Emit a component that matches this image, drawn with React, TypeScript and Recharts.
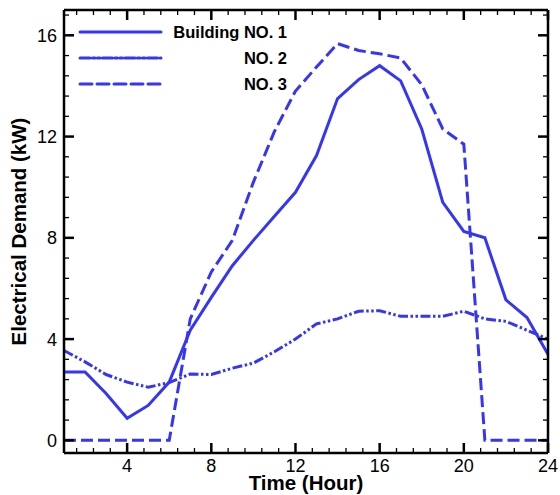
import React from 'react';
import { LineChart, Line, XAxis, YAxis } from 'recharts';

const hours = [1, 2, 3, 4, 5, 6, 7, 8, 9, 10, 11, 12, 13, 14, 15, 16, 17, 18, 19, 20, 21, 22, 23, 24];
const building1 = [2.7, 2.7, 1.85, 0.87, 1.38, 2.3, 4.35, 5.65, 6.9, 7.9, 8.85, 9.8, 11.25, 13.5, 14.25, 14.8, 14.2, 12.3, 9.4, 8.25, 8.0, 5.55, 4.85, 3.4];
const building2 = [3.55, 3.1, 2.6, 2.3, 2.1, 2.28, 2.62, 2.6, 2.85, 3.05, 3.5, 4.0, 4.6, 4.8, 5.1, 5.12, 4.9, 4.9, 4.9, 5.1, 4.8, 4.7, 4.35, 4.0];
const building3 = [0, 0, 0, 0, 0, 0, 4.8, 6.65, 7.9, 10.2, 12.2, 13.8, 14.75, 15.67, 15.4, 15.27, 15.1, 14.05, 12.3, 11.7, 0, 0, 0, 0];

const seriesNames = ['Building NO. 1', 'NO. 2', 'NO. 3'];
const xMajorTicks = [4, 8, 12, 16, 20, 24];
const yMajorTicks = [0, 4, 8, 12, 16];
const xDomain = [1, 24];
const yDomain = [-0.5, 17];
const minorStep = 0.8;
const xTitle = 'Time (Hour)';
const yTitle = 'Electrical Demand (kW)';

const COLOR = '#3535f7';
const FONT = 'Arial, "Liberation Sans", sans-serif';
const dashes = [undefined, '10 2.5 2.5 2.5 2.5 2.5', '12 5'];

const data = hours.map((h, i) => ({ h, b1: building1[i], b2: building2[i], b3: building3[i] }));

function buildTicks(majors: number[], lo: number, hi: number) {
  const out: number[] = [];
  for (let i = -40; i <= 40; i++) {
    const v = Math.round((majors[0] + i * minorStep) * 100) / 100;
    if (v >= lo - 1e-6 && v <= hi + 1e-6) out.push(v);
  }
  return out;
}
const xTicks = buildTicks(xMajorTicks, xDomain[0], xDomain[1]);
const yTicks = buildTicks(yMajorTicks, yDomain[0], yDomain[1]);
const isMajor = (v: number, majors: number[]) => majors.some((m) => Math.abs(m - v) < 1e-6);

const MAJ = 10;
const MIN = 5;

const BottomTick = (p: any) => {
  const v = p.payload.value;
  const major = isMajor(v, xMajorTicks);
  return (
    <g>
      <line x1={p.x} x2={p.x} y1={p.y} y2={p.y - (major ? MAJ : MIN)} stroke="#000" strokeWidth={major ? 2.5 : 1.3} />
      {major && (
        <text x={p.x} y={p.y + 18.5} textAnchor="middle" fontSize={18} fontFamily={FONT} fill="#000">{v}</text>
      )}
    </g>
  );
};
const TopTick = (p: any) => {
  const v = p.payload.value;
  const major = isMajor(v, xMajorTicks);
  return <line x1={p.x} x2={p.x} y1={p.y} y2={p.y + (major ? MAJ : MIN)} stroke="#000" strokeWidth={major ? 2.5 : 1.3} />;
};
const LeftTick = (p: any) => {
  const v = p.payload.value;
  const major = isMajor(v, yMajorTicks);
  return (
    <g>
      <line x1={p.x} x2={p.x + (major ? MAJ : MIN)} y1={p.y} y2={p.y} stroke="#000" strokeWidth={major ? 2.5 : 1.3} />
      {major && (
        <text x={p.x - 7} y={p.y + 6.5} textAnchor="end" fontSize={18} fontFamily={FONT} fill="#000">{v}</text>
      )}
    </g>
  );
};
const RightTick = (p: any) => {
  const v = p.payload.value;
  const major = isMajor(v, yMajorTicks);
  return <line x1={p.x} x2={p.x - (major ? MAJ : MIN)} y1={p.y} y2={p.y} stroke="#000" strokeWidth={major ? 2.5 : 1.3} />;
};

const XTitle = (p: any) => {
  const vb = p.viewBox || {};
  const cx = (vb.x ?? 0) + (vb.width ?? 0) / 2;
  const by = (vb.y ?? 0) + (vb.height ?? 0) - 5;
  return <text x={cx} y={by} textAnchor="middle" fontSize={20.5} fontWeight="bold" fontFamily={FONT} fill="#000">{xTitle}</text>;
};
const YTitle = (p: any) => {
  const vb = p.viewBox || {};
  const bx = (vb.x ?? 0) + 26;
  const cy = (vb.y ?? 0) + (vb.height ?? 0) / 2;
  return <text x={bx} y={cy} transform={`rotate(-90 ${bx} ${cy})`} textAnchor="middle" fontSize={20.5} fontWeight="bold" fontFamily={FONT} fill="#000">{yTitle}</text>;
};

const LegendBox = () => (
  <svg width={300} height={100} style={{ display: 'block' }}>
    {seriesNames.map((name, i) => {
      const y = 12 + i * 26;
      return (
        <g key={name}>
          <line x1={10} x2={91} y1={y} y2={y} stroke={COLOR} strokeWidth={3} strokeDasharray={dashes[i]} strokeLinecap="round" />
          <text x={217} y={y + 6} textAnchor="end" fontSize={16.5} fontWeight="bold" fontFamily={FONT} fill="#000">{name}</text>
        </g>
      );
    })}
  </svg>
);

const axisLine = { stroke: '#000', strokeWidth: 2.5 };

export default function App() {
  return (
    <div style={{ position: 'absolute', left: 0, top: 0, width: 560, height: 495 }}>
      <LineChart width={560} height={495} data={data} margin={{ top: 9, right: 11, bottom: 0, left: 0 }}>
        <XAxis
          dataKey="h"
          type="number"
          domain={xDomain}
          ticks={xTicks}
          interval={0}
          height={42}
          tickSize={0}
          tickMargin={0}
          tick={<BottomTick />}
          axisLine={axisLine}
          tickLine={false}
          label={<XTitle />}
        />
        <XAxis
          xAxisId="top"
          orientation="top"
          dataKey="h"
          type="number"
          domain={xDomain}
          ticks={xTicks}
          interval={0}
          height={1}
          tickSize={0}
          tickMargin={0}
          tick={<TopTick />}
          axisLine={axisLine}
          tickLine={false}
        />
        <YAxis
          type="number"
          domain={yDomain}
          ticks={yTicks}
          interval={0}
          width={64}
          tickSize={0}
          tickMargin={0}
          tick={<LeftTick />}
          axisLine={axisLine}
          tickLine={false}
          allowDataOverflow
          label={<YTitle />}
        />
        <YAxis
          yAxisId="right"
          orientation="right"
          type="number"
          domain={yDomain}
          ticks={yTicks}
          interval={0}
          width={1}
          tickSize={0}
          tickMargin={0}
          tick={<RightTick />}
          axisLine={axisLine}
          tickLine={false}
          allowDataOverflow
        />
        <Line xAxisId="top" yAxisId="right" dataKey="b1" stroke="none" strokeWidth={0} dot={false} activeDot={false} legendType="none" isAnimationActive={false} />
        <Line dataKey="b1" name={seriesNames[0]} stroke={COLOR} strokeWidth={3} dot={false} isAnimationActive={false} />
        <Line dataKey="b2" name={seriesNames[1]} stroke={COLOR} strokeWidth={3} strokeDasharray={dashes[1]} dot={false} isAnimationActive={false} />
        <Line dataKey="b3" name={seriesNames[2]} stroke={COLOR} strokeWidth={3} strokeDasharray={dashes[2]} dot={false} isAnimationActive={false} />
      </LineChart>
      <div style={{ position: 'absolute', left: 70, top: 20 }}>
        <LegendBox />
      </div>
    </div>
  );
}
